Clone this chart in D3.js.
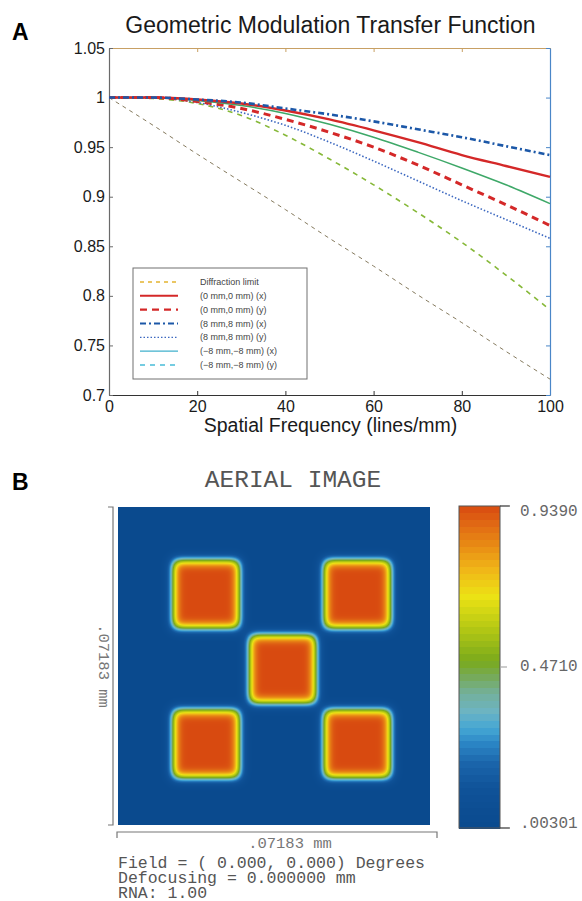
<!DOCTYPE html>
<html>
<head>
<meta charset="utf-8">
<script src="https://cdn.jsdelivr.net/npm/d3@7"></script>
<style>
  body { margin: 0; background: #fff; }
  svg { display: block; }
</style>
</head>
<body>
<script>
// ---- Panel A data: geometric MTF curves ----
var frequency = [0, 10, 20, 30, 40, 50, 60, 70, 80, 90, 100];
var diffractionLimit = [1, 0.972, 0.943, 0.915, 0.887, 0.858, 0.830, 0.801, 0.773, 0.744, 0.716];
var field00x = [1, 1.000, 0.998, 0.994, 0.987, 0.978, 0.967, 0.955, 0.942, 0.931, 0.920];
var field00y = [1, 1.000, 0.996, 0.989, 0.978, 0.965, 0.950, 0.932, 0.912, 0.892, 0.871];
var field88x = [1, 1.000, 0.998, 0.995, 0.989, 0.983, 0.976, 0.968, 0.960, 0.951, 0.942];
var field88y = [1, 1.000, 0.995, 0.985, 0.972, 0.955, 0.936, 0.916, 0.896, 0.877, 0.858];
var fieldM8x = [1, 1.000, 0.997, 0.992, 0.984, 0.973, 0.960, 0.945, 0.929, 0.912, 0.893];
var fieldM8y = [1, 0.999, 0.994, 0.982, 0.962, 0.938, 0.912, 0.884, 0.854, 0.821, 0.786];
var seriesLabels = ["Diffraction limit", "(0 mm,0 mm) (x)", "(0 mm,0 mm) (y)",
  "(8 mm,8 mm) (x)", "(8 mm,8 mm) (y)", "(\u22128 mm,\u22128 mm) (x)", "(\u22128 mm,\u22128 mm) (y)"];
var xTicks = [0, 20, 40, 60, 80, 100];
var yTicks = [0.7, 0.75, 0.8, 0.85, 0.9, 0.95, 1, 1.05];

// ---- Panel B data: aerial image of five square spots ----
var imageSize = 0.07183;                 // mm, both directions
var spotX = [0.0203, 0.0551, 0.0379, 0.0203, 0.0551];   // mm from left
var spotY = [0.0197, 0.0197, 0.0366, 0.0535, 0.0535];   // mm from top
var spotHalfWidth = 0.0077;              // mm
var spotBlur = 0.00115;                  // mm (edge sigma)
var intensityMin = 0.00301;
var intensityMax = 0.9390;
var colorbarTicks = [0.9390, 0.4710, 0.00301];
var colorbarLabels = ["0.9390", "0.4710", ".00301"];
var infoLines = ["Field = ( 0.000, 0.000) Degrees", "Defocusing = 0.000000 mm", "RNA: 1.00"];

// ---- styles (kept apart from data) ----
var styles = [
  { color: "#857a5e", width: 1,   dash: "4,4" },
  { color: "#d42828", width: 2.4, dash: null },
  { color: "#d42828", width: 3,   dash: "7,5" },
  { color: "#1c58a8", width: 2.6, dash: "6,3,2,3" },
  { color: "#3c68c0", width: 1.6, dash: "1.5,2" },
  { color: "#3ea868", width: 1.5, dash: null },
  { color: "#86b838", width: 1.6, dash: "5,5" }
];
var legendColors = ["#e4b430", "#d42828", "#d42828", "#1c58a8", "#3c68c0", "#40b0cc", "#48bcd8"];
var sans = "'Liberation Sans', Arial, Helvetica, sans-serif";
var mono = "'Liberation Mono', 'Courier New', monospace";

var svg = d3.select("body").append("svg")
  .attr("width", 582)
  .attr("height", 901);

// ======================= Panel A =======================
var plot = { left: 109, right: 550, top: 48, bottom: 395 };

var xScale = d3.scaleLinear().domain([0, 100]).range([plot.left, plot.right]);
var yScale = d3.scaleLinear().domain([0.7, 1.05]).range([plot.bottom, plot.top]);

svg.append("text")
  .attr("x", 12).attr("y", 40)
  .attr("font-family", sans).attr("font-weight", "bold").attr("font-size", 23)
  .text("A");

svg.append("text")
  .attr("x", (plot.left + plot.right) / 2 + 1).attr("y", 33)
  .attr("text-anchor", "middle")
  .attr("font-family", sans).attr("font-size", 23).attr("fill", "#1a1a1a")
  .text("Geometric Modulation Transfer Function");

function yFmt(d) { return String(+d.toFixed(2)); }

// Axes: inward ticks on all four sides (MATLAB box)
function styleAxis(g, color) {
  g.select(".domain").attr("stroke", color).attr("stroke-width", 1.2);
  g.selectAll(".tick line").attr("stroke", color);
  g.selectAll(".tick text")
    .attr("font-family", sans).attr("font-size", 16).attr("fill", "#1a1a1a");
}

var bottomAxis = svg.append("g")
  .attr("transform", "translate(0," + plot.bottom + ")")
  .call(d3.axisBottom(xScale).tickValues(xTicks).tickSizeInner(-4).tickSizeOuter(0).tickPadding(6));
styleAxis(bottomAxis, "#333");

var topAxis = svg.append("g")
  .attr("transform", "translate(0," + plot.top + ")")
  .call(d3.axisTop(xScale).tickValues(xTicks).tickSizeInner(-4).tickSizeOuter(0).tickFormat(""));
styleAxis(topAxis, "#c8a064");

var leftAxis = svg.append("g")
  .attr("transform", "translate(" + plot.left + ",0)")
  .call(d3.axisLeft(yScale).tickValues(yTicks).tickSizeInner(-4).tickSizeOuter(0).tickPadding(4).tickFormat(yFmt));
styleAxis(leftAxis, "#6a6a6a");

var rightAxis = svg.append("g")
  .attr("transform", "translate(" + plot.right + ",0)")
  .call(d3.axisRight(yScale).tickValues(yTicks).tickSizeInner(-4).tickSizeOuter(0).tickFormat(""));
styleAxis(rightAxis, "#4a86c8");

svg.append("text")
  .attr("x", (plot.left + plot.right) / 2 + 1).attr("y", 432)
  .attr("text-anchor", "middle")
  .attr("font-family", sans).attr("font-size", 19.5).attr("fill", "#1a1a1a")
  .text("Spatial Frequency (lines/mm)");

// Curves
var seriesValues = [diffractionLimit, field00x, field00y, field88x, field88y, fieldM8x, fieldM8y];
var series = seriesValues.map(function(vals, i) {
  return { name: seriesLabels[i], style: styles[i],
    points: frequency.map(function(f, j) { return { f: f, v: vals[j] }; }) };
});

var line = d3.line()
  .x(function(d) { return xScale(d.f); })
  .y(function(d) { return yScale(d.v); })
  .curve(d3.curveMonotoneX);

var drawOrder = [0, 6, 4, 2, 5, 1, 3];
drawOrder.forEach(function(i) {
  var s = series[i];
  svg.append("path")
    .attr("d", line(s.points))
    .attr("fill", "none")
    .attr("stroke", s.style.color)
    .attr("stroke-width", s.style.width)
    .attr("stroke-dasharray", s.style.dash);
});

// Legend
var legend = svg.append("g");
legend.append("rect")
  .attr("x", 133).attr("y", 268).attr("width", 174).attr("height", 111)
  .attr("fill", "#fff").attr("stroke", "#707070").attr("stroke-width", 1);

var legendY = d3.scalePoint().domain(d3.range(seriesLabels.length)).range([282, 365]);
series.forEach(function(s, i) {
  var y = legendY(i);
  legend.append("line")
    .attr("x1", 140).attr("x2", 178).attr("y1", y).attr("y2", y)
    .attr("stroke", legendColors[i])
    .attr("stroke-width", Math.max(1.4, s.style.width * 0.8))
    .attr("stroke-dasharray", s.style.dash);
  legend.append("text")
    .attr("x", 200).attr("y", y + 3)
    .attr("font-family", sans).attr("font-size", 9).attr("fill", "#444")
    .text(s.name);
});

// ======================= Panel B =======================
var img = { left: 118, right: 430, top: 507, bottom: 825 };

svg.append("text")
  .attr("x", 12).attr("y", 490)
  .attr("font-family", sans).attr("font-weight", "bold").attr("font-size", 23)
  .text("B");

svg.append("text")
  .attr("x", 293).attr("y", 487)
  .attr("text-anchor", "middle")
  .attr("font-family", mono).attr("font-size", 24.5).attr("fill", "#555")
  .text("AERIAL IMAGE");

// colour map
var colorStops = [0, 0.12, 0.20, 0.26, 0.31, 0.36, 0.42, 0.47, 0.52, 0.62, 0.72, 0.80, 0.88, 0.95, 1];
var colorValues = ["#0a4a8e", "#0f5298", "#1a64aa", "#2a84c4", "#44a6d4", "#6cb4c4", "#74b09a",
  "#76aa5a", "#7aaa1c", "#b4c814", "#ece214", "#f0b818", "#e88a14", "#e06614", "#d84a10"];
var tScale = d3.scaleLinear().domain([intensityMin, intensityMax]).range([0, 1]).clamp(true);
var colorScale = d3.scaleLinear().domain(colorStops).range(colorValues);

function erf(x) {
  var s = x < 0 ? -1 : 1;
  x = Math.abs(x);
  var t = 1 / (1 + 0.3275911 * x);
  var y = 1 - (((((1.061405429 * t - 1.453152027) * t) + 1.421413741) * t - 0.284496736) * t + 0.254829592) * t * Math.exp(-x * x);
  return s * y;
}
function edge(u, c) {
  var k = Math.SQRT2 * spotBlur;
  return 0.5 * (erf((u - c + spotHalfWidth) / k) - erf((u - c - spotHalfWidth) / k));
}

var nx = 312, ny = 318;
var xCell = d3.scaleBand().domain(d3.range(nx)).range([img.left, img.right]);
var yCell = d3.scaleBand().domain(d3.range(ny)).range([img.top, img.bottom]);
var mmX = d3.scaleLinear().domain([0, nx]).range([0, imageSize]);
var mmY = d3.scaleLinear().domain([0, ny]).range([0, imageSize]);

// separable profiles per spot
var profX = spotX.map(function(c) { return d3.range(nx).map(function(i) { return edge(mmX(i + 0.5), c); }); });
var profY = spotY.map(function(c) { return d3.range(ny).map(function(j) { return edge(mmY(j + 0.5), c); }); });

// background rect, then only cells that differ visibly from the background
svg.append("rect")
  .attr("x", img.left).attr("y", img.top)
  .attr("width", img.right - img.left).attr("height", img.bottom - img.top)
  .attr("fill", colorScale(0));

var cells = [];
for (var j = 0; j < ny; j++) {
  for (var i = 0; i < nx; i++) {
    var sum = 0;
    for (var k = 0; k < spotX.length; k++) sum += profX[k][i] * profY[k][j];
    if (sum > 0.004) {
      cells.push({ i: i, j: j, value: intensityMin + (intensityMax - intensityMin) * Math.min(1, sum) });
    }
  }
}

svg.append("g")
  .attr("shape-rendering", "crispEdges")
  .selectAll("rect")
  .data(cells)
  .enter()
  .append("rect")
  .attr("x", function(d) { return xCell(d.i); })
  .attr("y", function(d) { return yCell(d.j); })
  .attr("width", xCell.bandwidth())
  .attr("height", yCell.bandwidth())
  .attr("fill", function(d) { return colorScale(tScale(d.value)); });

// dimension brackets
var grey = "#777";
svg.append("path")
  .attr("d", "M108," + img.top + "H113V" + img.bottom + "H108")
  .attr("fill", "none").attr("stroke", grey).attr("stroke-width", 1.2);
svg.append("text")
  .attr("transform", "translate(99," + ((img.top + img.bottom) / 2) + ") rotate(90)")
  .attr("text-anchor", "middle")
  .attr("font-family", mono).attr("font-size", 15.5).attr("fill", grey)
  .text(".07183 mm");

svg.append("path")
  .attr("d", "M117,838V832H437V838")
  .attr("fill", "none").attr("stroke", grey).attr("stroke-width", 1.2);
svg.append("text")
  .attr("x", 290).attr("y", 848)
  .attr("text-anchor", "middle")
  .attr("font-family", mono).attr("font-size", 15.5).attr("fill", grey)
  .text(".07183 mm");

svg.selectAll(".info")
  .data(infoLines)
  .enter()
  .append("text")
  .attr("class", "info")
  .attr("x", 118)
  .attr("y", function(d, i) { return 868 + i * 15; })
  .attr("font-family", mono).attr("font-size", 16.5).attr("fill", "#555")
  .attr("xml:space", "preserve")
  .style("white-space", "pre")
  .text(function(d) { return d; });

// colour bar
var bar = { left: 459, right: 500, top: 506, bottom: 828 };
var yBar = d3.scaleLinear().domain([intensityMin, intensityMax]).range([bar.bottom, bar.top]);
var nBands = 48;
var bands = d3.range(nBands).map(function(b) {
  var v0 = intensityMin + (intensityMax - intensityMin) * b / nBands;
  var v1 = intensityMin + (intensityMax - intensityMin) * (b + 1) / nBands;
  return { v0: v0, v1: v1 };
});
svg.append("g")
  .attr("shape-rendering", "crispEdges")
  .selectAll("rect")
  .data(bands)
  .enter()
  .append("rect")
  .attr("x", bar.left)
  .attr("width", bar.right - bar.left)
  .attr("y", function(d) { return yBar(d.v1); })
  .attr("height", function(d) { return yBar(d.v0) - yBar(d.v1) + 0.5; })
  .attr("fill", function(d) { return colorScale(tScale((d.v0 + d.v1) / 2)); });

svg.append("rect")
  .attr("x", bar.left).attr("y", bar.top)
  .attr("width", bar.right - bar.left).attr("height", bar.bottom - bar.top)
  .attr("fill", "none").attr("stroke", "#555").attr("stroke-width", 1);

var baselines = ["hanging", "middle", "auto"];
colorbarTicks.forEach(function(v, i) {
  var y = yBar(v);
  svg.append("line")
    .attr("x1", bar.right).attr("x2", bar.right + (i === 1 ? 7 : 10))
    .attr("y1", y).attr("y2", y)
    .attr("stroke", i === 1 ? "#aaa" : "#333").attr("stroke-width", 1.2);
  svg.append("text")
    .attr("x", 520).attr("y", y)
    .attr("dominant-baseline", baselines[i])
    .attr("font-family", mono).attr("font-size", 16).attr("fill", "#666")
    .text(colorbarLabels[i]);
});
</script>
</body>
</html>
